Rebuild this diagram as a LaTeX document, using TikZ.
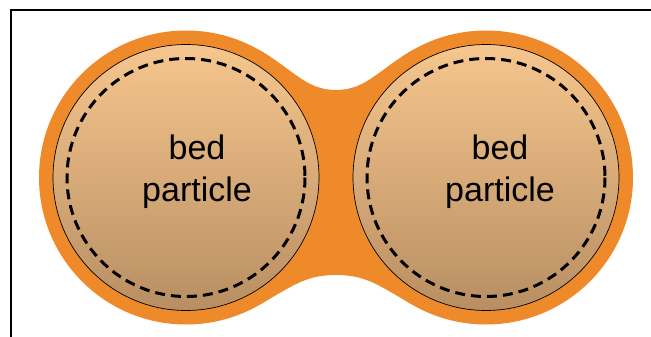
\documentclass[tikz,border=0pt]{standalone}
\usepackage{fontspec}
\setmainfont{Liberation Sans}
\definecolor{bedorange}{RGB}{238,138,42}
\definecolor{bedtop}{RGB}{246,198,142}
\definecolor{bedbottom}{RGB}{184,142,98}
\usetikzlibrary{positioning}

\begin{document}
\begin{tikzpicture}[
  x=1pt,y=-1pt,
  coating/.style={fill=bedorange,draw=none},
  grain/.style={draw=black,line width=0.7pt,top color=bedtop,bottom color=bedbottom},
  shell/.style={draw=black,line width=3pt,dash pattern=on 10pt off 6pt},
  bedlabel/.style={font=\fontsize{34}{42}\selectfont,align=center,inner sep=0pt},
]
  \useasboundingbox (0,0) rectangle (651,337);
  % frame
  \draw[line width=2.5pt] (11,337) -- (11,10) -- (651,10);
  % coating neck between the particles
  \fill[bedorange] (259.5,50.2) .. controls (294,70) and (306,90) .. (336,90)
    .. controls (366,90) and (378,70) .. (412.5,50.2) -- (412.5,304.8)
    .. controls (378,285) and (366,275) .. (336,275)
    .. controls (306,275) and (294,285) .. (259.5,304.8) -- cycle;
  % coating around each particle
  \node[coating,circle,minimum size=294pt,inner sep=0pt] (coatL) at (186,177.5) {};
  \node[coating,circle,minimum size=294pt,inner sep=0pt] (coatR) at (486,177.5) {};
  % bed particles
  \shade[grain] (186,177.5) circle (133);
  \shade[grain] (486,177.5) circle (133);
  \draw[shell] (186,177.5) circle (119);
  \draw[shell] (486,177.5) circle (119);
  % labels
  \node[bedlabel] (labL) at (197,172) {bed\\particle};
  \node[bedlabel] (labR) at (500,172) {bed\\particle};
\end{tikzpicture}
\end{document}
